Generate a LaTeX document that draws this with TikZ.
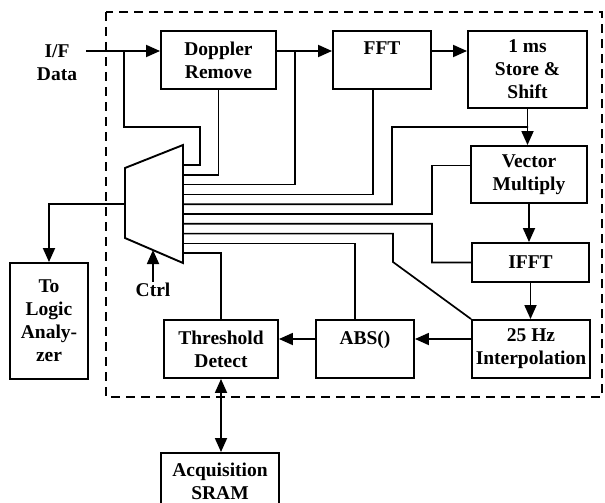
\documentclass[tikz,border=0pt]{standalone}
\usepackage{fontspec}
\setmainfont{Liberation Serif}
\usetikzlibrary{arrows.meta,positioning,calc}
\tikzset{
  blk/.style={draw,line width=1.9pt,align=center,inner sep=2pt,
              font=\fontsize{19.5}{23}\selectfont\bfseries},
  ar/.style ={-{Triangle[length=14pt,width=12pt]},line width=1.8pt},
  dar/.style={{Triangle[length=14pt,width=12pt]}-{Triangle[length=14pt,width=12pt]},line width=1.8pt},
  wire/.style={line width=1.7pt},
  lbl/.style={font=\fontsize{19.5}{23}\selectfont\bfseries,align=center,inner sep=1pt},
  frame/.style={line width=1.8pt,dash pattern=on 9pt off 6pt},
}

\begin{document}
\begin{tikzpicture}[x=1pt,y=-1pt]
  \clip (0,0) rectangle (605,503);
  % receiver board
  \draw[frame] (106,12) rectangle (602,397);
  \node[blk,minimum width=115pt,minimum height=58pt] (dop) at (218.5,60) {Doppler\\Remove};
  \node[blk,minimum width=98pt,minimum height=58pt]  (fft) at (382,60) {FFT\\\mbox{}};
  \node[blk,minimum width=119pt,minimum height=77pt] (sto) at (527.5,69.5) {1 ms\\Store \&\\Shift};
  \node[blk,minimum width=116pt,minimum height=57pt] (vec) at (529,174.5) {Vector\\Multiply};
  \node[blk,minimum width=117pt,minimum height=39pt] (ifft) at (530.5,262.5) {IFFT};
  \node[blk,minimum width=118pt,minimum height=58pt] (intp) at (531,349) {25 Hz\\Interpolation};
  \node[blk,minimum width=98pt,minimum height=58pt]  (abs) at (365,349) {ABS()\\\mbox{}};
  \node[blk,minimum width=114pt,minimum height=58pt] (thr) at (221,349) {Threshold\\Detect};
  \node[blk,minimum width=78pt,minimum height=116pt] (log) at (49,321) {To\\Logic\\Analy-\\zer};
  \node[blk,minimum width=118pt,minimum height=56pt] (sram) at (220,481) {Acquisition\\SRAM};
  \node[lbl] (ifd)  at (57,63) {I/F\\Data};
  \node[lbl] (ctrl) at (153,290) {Ctrl};
  % mux
  \draw[line width=1.9pt] (125,168) -- (183,145) -- (183,263) -- (125,238) -- cycle;
  \foreach \i in {1,...,10}
     \coordinate (m\i) at (183,{165+9.8*(\i-1)});
  \coordinate (mo) at (125,204);
  \coordinate (mb) at (153,250);
  \coordinate (din) at (86,51);
  \coordinate (t1) at (124,51);
  \coordinate (t3) at (295,51);
  \coordinate (t5) at (528,127);
  % data path
  \draw[ar] (din) -- (din -| dop.west);
  \draw[ar] (dop.east |- din) -- (fft.west |- din);
  \draw[ar] (fft.east |- din) -- (sto.west |- din);
  \draw[ar] (sto.south) -- (sto.south |- vec.north);
  \draw[ar] (vec.south) -- (vec.south |- ifft.north);
  \draw[ar] (ifft.south) -- (ifft.south |- intp.north);
  \draw[ar] ([yshift=10pt]intp.west) -- ([yshift=10pt]abs.east);
  \draw[ar] ([yshift=10pt]abs.west) -- ([yshift=10pt]thr.east);
  \draw[dar] (thr.south) -- (thr.south |- sram.north);
  \draw[ar] (mo) -| (log.north);
  \draw[ar] (ctrl.north) -- (mb);
  % taps into the mux
  \draw[wire] (t1) |- (200,127) |- (m1);
  \draw[wire] (dop.south) |- (m2);
  \draw[wire] (t3) |- (m3);
  \draw[wire] ([xshift=-9pt]fft.south) |- (m4);
  \draw[wire] (t5) -| (392,204.2) -- (m5);
  \draw[wire] ([yshift=9pt]vec.west) -| (432,214) -- (m6);
  \draw[wire] (ifft.west) -| (432,223.8) -- (m7);
  \draw[wire] (intp.north west) -- (393,262) |- (m8);
  \draw[wire] ([xshift=-10pt]abs.north) |- (m9);
  \draw[wire] (thr.north) |- (m10);
\end{tikzpicture}
\end{document}
